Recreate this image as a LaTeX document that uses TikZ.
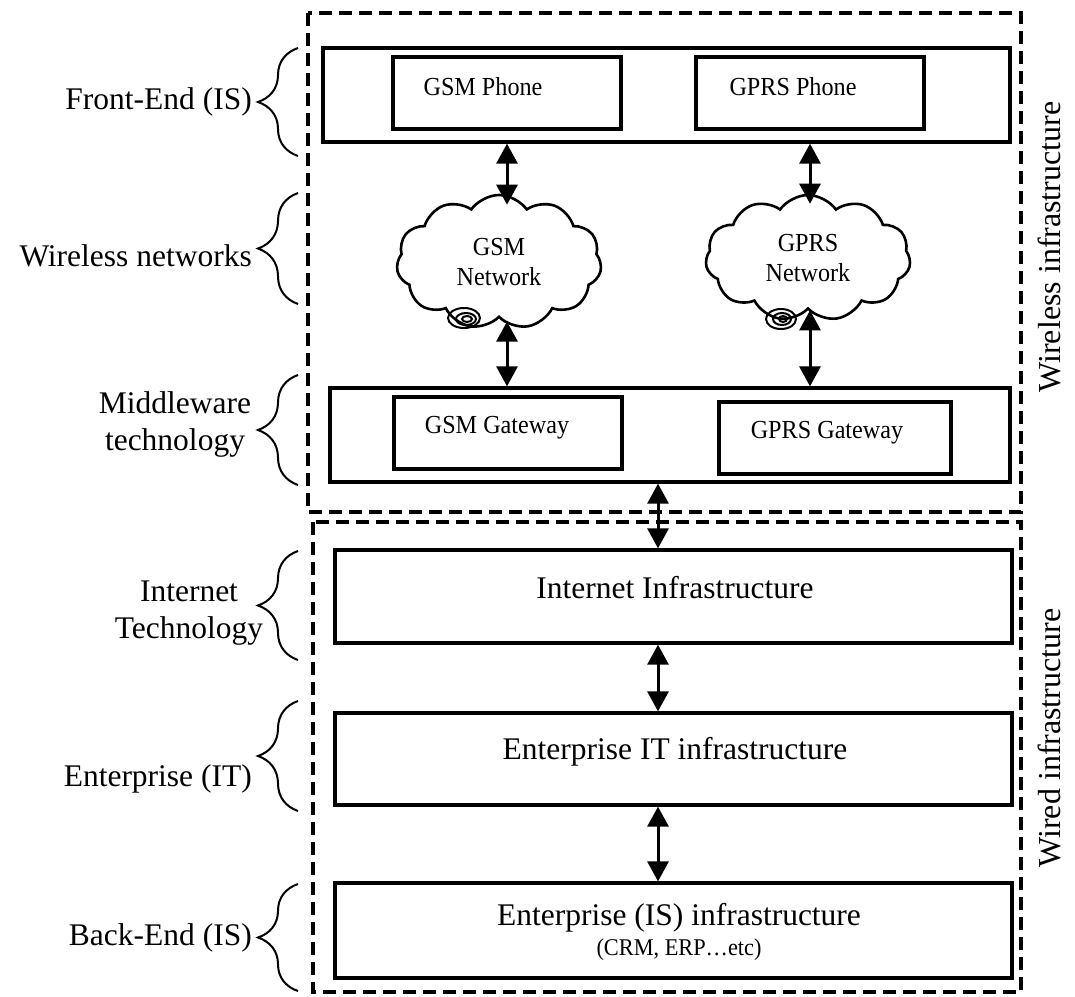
\documentclass[tikz,border=0pt]{standalone}
\usepackage{fontspec}
\setmainfont{Liberation Serif}
\newfontfamily\narrowserif[FakeStretch=0.93]{Liberation Serif}
\usetikzlibrary{arrows.meta,decorations.pathreplacing,shapes.symbols}

\tikzset{
  layerbox/.style={draw, line width=3.3pt, inner sep=0pt},
  unitbox/.style={draw, line width=3.3pt, inner sep=0pt, minimum width=228pt, minimum height=72pt},
  zone/.style={draw, line width=3.3pt, dash pattern=on 13pt off 7pt},
  bigtxt/.style={font=\fontsize{31.5}{37}\selectfont, inner sep=0pt, align=center},
  unittxt/.style={font=\narrowserif\fontsize{26}{30}\selectfont, inner sep=0pt},
  smalltxt/.style={font=\narrowserif\fontsize{24}{28}\selectfont, inner sep=0pt},
  netcloud/.style={draw, line width=2.6pt, cloud, cloud puffs=11, cloud puff arc=110,
    aspect=1.35, inner sep=0pt, align=center, font=\narrowserif\fontsize{26}{30}\selectfont},
  link/.style={line width=3pt, {Triangle[length=20pt,width=21pt]}-{Triangle[length=20pt,width=21pt]}},
  layerbrace/.style={line width=2pt, decorate, decoration={brace, amplitude=40pt}},
  spiral/.style={line width=2pt},
}

\begin{document}
\begin{tikzpicture}[x=1pt,y=-1pt]
\useasboundingbox (0,0) rectangle (1075,996);

% dashed zones
\draw[zone] (308,13) rectangle (1021,512);
\draw[zone] (313,522) rectangle (1021,992);

% front end
\node[layerbox, minimum width=687pt, minimum height=94pt] (front) at (666.5,95) {};
\node[unitbox] (gsmphone) at (507,93) {};
\node[unittxt] (gsmphonetxt) at (483,87) {GSM Phone};
\node[unitbox] (gprsphone) at (810,93) {};
\node[unittxt] (gprsphonetxt) at (793,87) {GPRS Phone};

% wireless networks
\node[netcloud, minimum width=205pt, minimum height=134pt] (gsmnet) at (499,262) {GSM\\Network};
\node[netcloud, minimum width=205pt, minimum height=126pt] (gprsnet) at (808,258) {GPRS\\Network};
\draw[spiral] (464,318) ellipse (16pt and 10pt);
\draw[spiral] (466,319) ellipse (10pt and 6pt);
\draw[spiral] (467,319) ellipse (5pt and 3pt);
\draw[spiral] (781,319) ellipse (15pt and 10pt);
\draw[spiral] (782,319) ellipse (9pt and 6pt);
\draw[spiral] (783,319) ellipse (4pt and 3pt);

% middleware
\node[layerbox, minimum width=680pt, minimum height=94pt] (mw) at (670,435) {};
\node[unitbox] (gsmgw) at (508,433) {};
\node[unittxt] (gsmgwtxt) at (497,428) {GSM Gateway};
\node[unitbox, minimum width=232pt, minimum height=72pt] (gprsgw) at (835,438) {};
\node[unittxt] (gprsgwtxt) at (827,433) {GPRS Gateway};

% wired layers
\node[layerbox, minimum width=677pt, minimum height=93pt] (inet) at (673.5,596.5) {};
\node[bigtxt] (inettxt) at (675,588) {Internet Infrastructure};
\node[layerbox, minimum width=677pt, minimum height=92pt] (eit) at (673.5,759) {};
\node[bigtxt] (eittxt) at (675,752) {Enterprise IT infrastructure};
\node[layerbox, minimum width=677pt, minimum height=95pt] (eis) at (673.5,930.5) {};
\node[bigtxt] (eistxt) at (679,918) {Enterprise (IS) infrastructure};
\node[smalltxt] (eissub) at (679,950) {(CRM, ERP\dots etc)};

% links (cloud ends meet the dip between the top puffs)
\coordinate (axis) at (658,0);
\draw[link] (gsmphone.south |- front.south) -- ([yshift=-11pt]gsmphone.south |- gsmnet.north);
\draw[link] (gprsphone.south |- front.south) -- ([yshift=-10pt]gprsphone.south |- gprsnet.north);
\draw[link] ([yshift=-3pt]gsmphone.south |- gsmnet.south) -- (gsmphone.south |- mw.north);
\draw[link] (gprsphone.south |- gprsnet.south) -- (gprsphone.south |- mw.north);
\draw[link] (axis |- mw.south) -- (axis |- inet.north);
\draw[link] (axis |- inet.south) -- (axis |- eit.north);
\draw[link] (axis |- eit.south) -- (axis |- eis.north);

% zone titles
\node[bigtxt, rotate=90, font=\fontsize{32}{38}\selectfont] (wlstitle) at (1049,247) {Wireless infrastructure};
\node[bigtxt, rotate=90, font=\fontsize{32}{38}\selectfont] (wiredtitle) at (1049,738) {Wired infrastructure};

% layer names and braces
\draw[layerbrace] (298,156) -- (298,48);
\node[bigtxt, anchor=east] (felbl) at (252,102) {Front-End (IS)};
\draw[layerbrace] (298,304) -- (298,193);
\node[bigtxt, anchor=east] (wnlbl) at (252,256) {Wireless networks};
\draw[layerbrace] (298,485) -- (298,375);
\node[bigtxt] (mwlbl) at (175,424) {Middleware\\technology};
\draw[layerbrace] (298,660) -- (298,551);
\node[bigtxt] (itlbl) at (189,613) {Internet\\Technology};
\draw[layerbrace] (298,811) -- (298,701);
\node[bigtxt, anchor=east] (eitlbl) at (252,779) {Enterprise (IT)};
\draw[layerbrace] (298,991) -- (298,884);
\node[bigtxt, anchor=east] (belbl) at (252,938) {Back-End (IS)};
\end{tikzpicture}
\end{document}
